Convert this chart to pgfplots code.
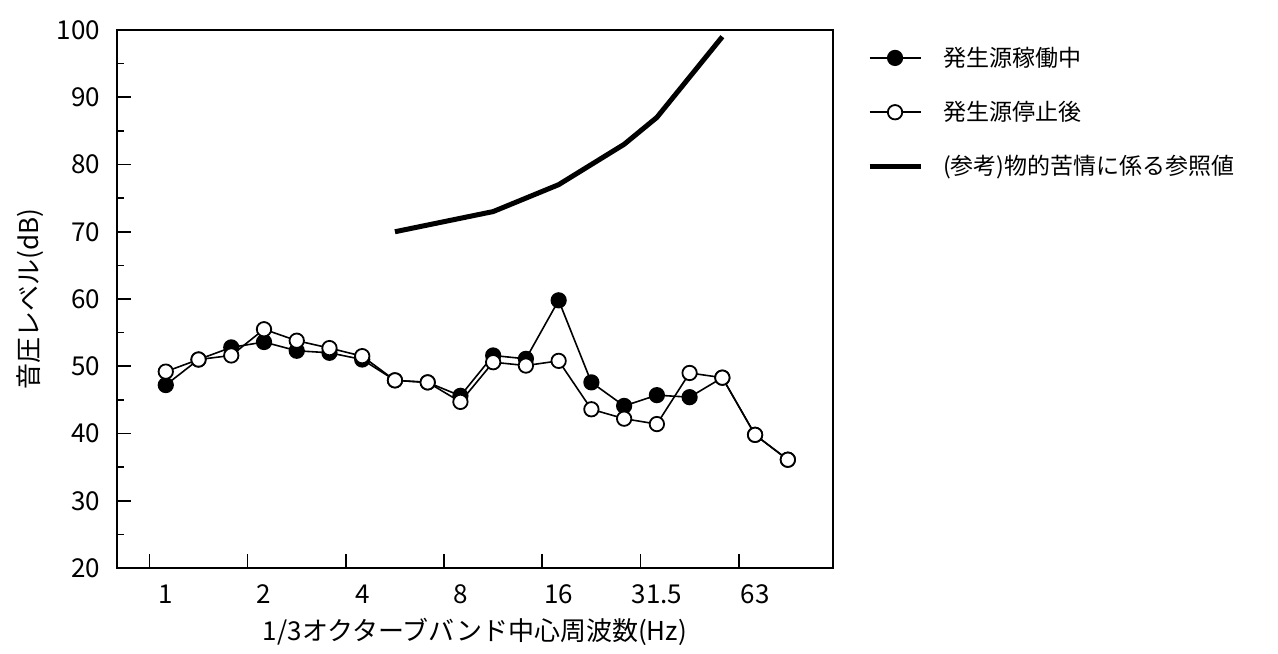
\documentclass[border=0pt]{standalone}
\usepackage{pgfplots}
\pgfplotsset{compat=1.18}
\usepackage{fontspec}
\setmainfont{Noto Sans CJK JP}

\pgfplotstableread{
idx run stop
0  47.2 49.2
1  51.0 51.0
2  52.8 51.6
3  53.6 55.5
4  52.3 53.8
5  52.0 52.7
6  51.0 51.5
7  47.9 47.9
8  47.6 47.6
9  45.6 44.7
10 51.6 50.6
11 51.1 50.1
12 59.8 50.8
13 47.6 43.6
14 44.1 42.2
15 45.7 41.4
16 45.4 49.0
17 48.3 48.3
18 39.8 39.8
19 36.1 36.1
}\levels

\pgfplotstableread{
idx ref
7  70
8  71
9  72
10 73
11 75
12 77
13 80
14 83
15 87
16 93
17 99
}\refvals

\begin{document}
\begin{tikzpicture}
\begin{axis}[
  scale only axis,
  width=358pt, height=269pt,
  xmin=-1.49, xmax=20.38,
  ymin=20, ymax=100,
  axis line style={line width=1.4pt},
  tick pos=left, tick align=inside,
  xtick={-0.5,2.5,5.5,8.5,11.5,14.5,17.5},
  xticklabels={1,2,4,8,16,31.5,63},
  xticklabel style={xshift=8.19pt, yshift=-5pt, font=\fontsize{13}{15}\selectfont},
  ytick={20,30,...,100},
  minor y tick num=1,
  major tick length=7pt, minor tick length=3.5pt,
  tick style={line width=0.8pt, black},
  yticklabel style={xshift=-5pt, font=\fontsize{13}{15}\selectfont},
  /pgf/number format/assume math mode=true,
  xlabel={1/3オクターブバンド中心周波数(Hz)},
  ylabel={音圧レベル(dB)},
  label style={font=\fontsize{13}{15}\selectfont},
  xlabel style={at={(axis description cs:0.5,-0.119)}, anchor=center},
  ylabel style={at={(axis description cs:-0.1215,0.5)}, anchor=center},
  legend style={at={(axis description cs:1.047,0.977)}, anchor=north west,
    draw=none, fill=none, font=\fontsize{11.5}{13}\selectfont,
    row sep=12pt, inner sep=0pt, nodes={inner sep=2pt}},
  legend cell align=left,
  legend image code/.code={\draw[mark repeat=2,mark phase=2,#1] plot coordinates {(0pt,0pt) (12.75pt,0pt) (25.5pt,0pt)};},
]
\addplot[black, line width=0.8pt, mark=*, mark size=3.6pt,
  mark options={fill=black, line width=0.9pt}] table[x=idx, y=run] {\levels};
\addlegendentry{\hspace{8pt}発生源稼働中}
\addplot[black, line width=0.8pt, mark=*, mark size=3.6pt,
  mark options={fill=white, line width=0.9pt}] table[x=idx, y=stop] {\levels};
\addlegendentry{\hspace{8pt}発生源停止後}
\addplot[black, line width=2.5pt, line join=round] table[x=idx, y=ref] {\refvals};
\addlegendentry{\hspace{8pt}(参考)物的苦情に係る参照値}
\end{axis}
\pgfresetboundingbox
\path ([shift={(-58.5pt,-43pt)}]current axis.south west) rectangle ([shift={(222.5pt,15pt)}]current axis.north east);
\end{tikzpicture}
\end{document}
